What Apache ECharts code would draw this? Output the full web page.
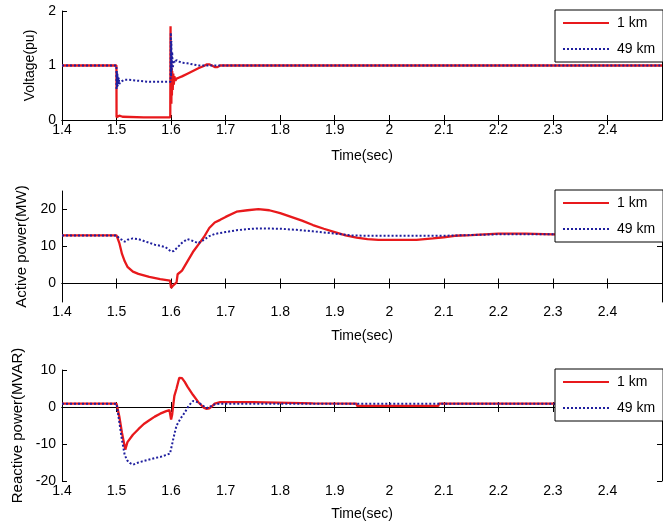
<!DOCTYPE html>
<html>
<head>
<meta charset="utf-8">
<script src="https://cdn.jsdelivr.net/npm/echarts@6/dist/echarts.min.js"></script>
<style>
  html, body { margin: 0; padding: 0; background: #fff; }
  #chart { width: 663px; height: 527px; }
</style>
</head>
<body>
<div id="chart"></div>
<script>
// ---- Data ----
const seriesNames = ['1 km', '49 km'];
const xTicks = [1.4, 1.5, 1.6, 1.7, 1.8, 1.9, 2.0, 2.1, 2.2, 2.3, 2.4];
const yTicksVolt = [0, 1, 2];
const yTicksP = [0, 10, 20];
const yTicksQ = [-20, -10, 0, 10];

// Voltage (pu)
const tV1 = [1.4, 1.4998, 1.5, 1.503, 1.505, 1.508, 1.511, 1.513, 1.55, 1.5985, 1.599, 1.5995, 1.6, 1.6005, 1.601, 1.6015, 1.602, 1.603, 1.604, 1.605, 1.606, 1.608, 1.61, 1.615, 1.62, 1.63, 1.64, 1.65, 1.66, 1.665, 1.67, 1.675, 1.68, 1.685, 1.69, 2.5];
const V1  = [1.0, 1.0, 0.05, 0.05, 0.08, 0.08, 0.06, 0.05, 0.05, 0.05, 1.72, 0.35, 1.05, 0.3, 0.95, 0.45, 0.9, 0.55, 0.85, 0.65, 0.8, 0.72, 0.76, 0.78, 0.8, 0.85, 0.9, 0.95, 0.99, 1.02, 1.02, 1.0, 0.97, 0.97, 1.0, 1.0];
const tV49 = [1.4, 1.4998, 1.5, 1.5005, 1.501, 1.5015, 1.502, 1.5025, 1.503, 1.504, 1.505, 1.507, 1.51, 1.515, 1.52, 1.53, 1.54, 1.56, 1.58, 1.599, 1.5995, 1.6, 1.6005, 1.601, 1.602, 1.603, 1.605, 1.607, 1.61, 1.615, 1.62, 1.63, 1.64, 1.65, 1.66, 2.5];
const V49  = [1.0, 1.0, 0.55, 0.9, 0.6, 0.85, 0.62, 0.8, 0.65, 0.78, 0.66, 0.7, 0.72, 0.74, 0.74, 0.73, 0.72, 0.7, 0.7, 0.7, 1.6, 0.8, 1.45, 0.9, 1.25, 0.95, 1.1, 1.05, 1.1, 1.07, 1.05, 1.04, 1.02, 1.0, 1.0, 1.0];

// Active power (MW)
const tP1 = [1.4, 1.5, 1.505, 1.51, 1.515, 1.52, 1.53, 1.54, 1.56, 1.58, 1.598, 1.6, 1.602, 1.604, 1.606, 1.61, 1.612, 1.62, 1.63, 1.64, 1.65, 1.66, 1.67, 1.68, 1.69, 1.7, 1.72, 1.74, 1.76, 1.78, 1.8, 1.82, 1.84, 1.86, 1.88, 1.9, 1.92, 1.94, 1.96, 1.98, 2.0, 2.05, 2.08, 2.1, 2.12, 2.15, 2.2, 2.25, 2.3, 2.5];
const P1  = [13, 13, 11, 8, 6, 4.5, 3.2, 2.6, 1.8, 1.2, 0.8, -1.2, -1.5, -0.5, -0.2, 0.3, 2.5, 3.5, 6, 8.5, 10.5, 12.5, 15, 16.5, 17.2, 18, 19.4, 19.8, 20.1, 19.8, 19, 18, 17, 15.8, 14.8, 13.9, 13, 12.4, 12, 11.8, 11.8, 11.8, 12.2, 12.5, 12.9, 13.1, 13.5, 13.5, 13.3, 13.3];
const tP49 = [1.4, 1.5, 1.505, 1.51, 1.515, 1.52, 1.53, 1.54, 1.55, 1.56, 1.57, 1.58, 1.59, 1.6, 1.605, 1.61, 1.62, 1.63, 1.64, 1.65, 1.66, 1.67, 1.68, 1.7, 1.72, 1.74, 1.76, 1.8, 1.83, 1.86, 1.9, 1.93, 1.96, 2.0, 2.1, 2.15, 2.2, 2.3, 2.5];
const P49  = [13, 13, 12.2, 11.8, 11.3, 11.8, 12.2, 12, 11.5, 11, 10.5, 10.2, 9.8, 8.6, 8.8, 9.5, 11, 12, 11.5, 10.9, 11.8, 12.8, 13.4, 13.9, 14.4, 14.7, 14.9, 14.8, 14.5, 14.1, 13.5, 13, 12.9, 12.9, 12.9, 13.1, 13.3, 13.3, 13.3];

// Reactive power (MVAR)
const tQ1 = [1.4, 1.5, 1.505, 1.51, 1.516, 1.52, 1.53, 1.54, 1.55, 1.56, 1.57, 1.58, 1.59, 1.597, 1.6, 1.602, 1.606, 1.61, 1.615, 1.62, 1.625, 1.63, 1.64, 1.65, 1.66, 1.665, 1.67, 1.675, 1.68, 1.69, 1.75, 1.751, 1.86, 1.861, 1.94, 1.941, 2.09, 2.091, 2.5];
const Q1  = [0.9, 0.9, -2.5, -7, -11.5, -9.5, -7.5, -6, -4.6, -3.6, -2.6, -1.8, -1.2, -0.8, -3.4, -2, 3, 5, 7.9, 7.8, 6.8, 5.5, 3.3, 1.3, -0.2, -0.5, -0.4, 0.2, 0.9, 1.3, 1.3, 1.0, 1.0, 0.9, 0.9, 0.3, 0.3, 0.9, 0.9];
const tQ49 = [1.4, 1.5, 1.505, 1.51, 1.515, 1.52, 1.525, 1.53, 1.54, 1.55, 1.56, 1.57, 1.58, 1.59, 1.598, 1.605, 1.61, 1.617, 1.625, 1.632, 1.64, 1.645, 1.65, 1.66, 1.665, 1.67, 1.68, 1.69, 2.5];
const Q49  = [0.9, 0.9, -4, -9, -13, -14.5, -15.2, -15.6, -15, -14.6, -14.2, -13.8, -13.5, -13, -12.6, -8, -5, -3.2, -1.5, 0.3, 1.6, 1.5, 1.2, 0.2, -0.3, 0, 0.7, 0.9, 0.9];

// ---- Build chart ----
const FONT = "'Liberation Sans', Arial, sans-serif";
const zip = (t, v) => t.map((x, i) => [x, v[i]]);

const panels = [
  { top: 11,  height: 109, yMin: 0,   yMax: 2,  yTicks: yTicksVolt, yName: 'Voltage(pu)',           nameGap: 24, nameSize: 14, xNameGap: 29, s1: zip(tV1, V1), s49: zip(tV49, V49) },
  { top: 191, height: 111, yMin: -5,  yMax: 25, yTicks: yTicksP,    yName: 'Active power(MW)',      nameGap: 32, nameSize: 15, xNameGap: 27, s1: zip(tP1, P1), s49: zip(tP49, P49) },
  { top: 370, height: 111, yMin: -20, yMax: 10, yTicks: yTicksQ,    yName: 'Reactive power(MVAR)',  nameGap: 35, nameSize: 15, xNameGap: 26, s1: zip(tQ1, Q1), s49: zip(tQ49, Q49) }
];

const axisLine = { show: true, lineStyle: { color: '#000', width: 1 } };
const grid = [], xAxis = [], yAxis = [], series = [], legend = [];

panels.forEach((p, i) => {
  grid.push({ left: 62, right: 1, top: p.top, height: p.height, containLabel: false });
  xAxis.push({
    type: 'value', gridIndex: i, min: 1.4, max: 2.5, position: 'bottom',
    axisLine: axisLine,
    axisTick: { show: true, inside: true, length: 5, customValues: xTicks, lineStyle: { color: '#000' } },
    axisLabel: { show: true, customValues: xTicks, margin: 3, color: '#000', fontSize: 14, fontFamily: FONT },
    splitLine: { show: false },
    name: 'Time(sec)', nameLocation: 'middle', nameGap: p.xNameGap,
    nameTextStyle: { color: '#000', fontSize: 14, fontFamily: FONT }
  });
  xAxis.push({
    type: 'value', gridIndex: i, min: 1.4, max: 2.5, position: 'top',
    axisLine: axisLine,
    axisTick: { show: true, inside: true, length: 5, customValues: xTicks, lineStyle: { color: '#000' } },
    axisLabel: { show: false },
    splitLine: { show: false }
  });
  yAxis.push({
    type: 'value', gridIndex: i, min: p.yMin, max: p.yMax, position: 'left',
    axisLine: axisLine,
    axisTick: { show: true, inside: true, length: 5, customValues: p.yTicks, lineStyle: { color: '#000' } },
    axisLabel: { show: true, customValues: p.yTicks, margin: 6, color: '#000', fontSize: 14, fontFamily: FONT },
    splitLine: { show: false },
    name: p.yName, nameLocation: 'middle', nameGap: p.nameGap, nameRotate: 90,
    nameTextStyle: { color: '#000', fontSize: p.nameSize, fontFamily: FONT }
  });
  yAxis.push({
    type: 'value', gridIndex: i, min: p.yMin, max: p.yMax, position: 'right',
    axisLine: axisLine,
    axisTick: { show: true, inside: true, length: 5, customValues: p.yTicks, lineStyle: { color: '#000' } },
    axisLabel: { show: false },
    splitLine: { show: false }
  });
  series.push({
    name: seriesNames[0], type: 'line', xAxisIndex: 2 * i, yAxisIndex: 2 * i,
    data: p.s1, symbol: 'none', showSymbol: false, z: 2,
    lineStyle: { color: '#e8191c', width: 2.3 }, itemStyle: { color: '#e8191c' }
  });
  series.push({
    name: seriesNames[1], type: 'line', xAxisIndex: 2 * i, yAxisIndex: 2 * i,
    data: p.s49, symbol: 'none', showSymbol: false, z: 3,
    lineStyle: { color: '#1f1f9e', width: 2, type: [2, 2] }, itemStyle: { color: '#1f1f9e' }
  });
  legend.push({
    data: seriesNames, orient: 'vertical', left: 555, top: p.top - 1,
    itemWidth: 46, itemHeight: 14, itemGap: 12,
    padding: [6, 8, 6, 7],
    backgroundColor: '#fff', borderColor: '#000', borderWidth: 1, borderRadius: 0,
    itemStyle: { opacity: 0 },
    textStyle: { color: '#000', fontSize: 14, fontFamily: FONT, padding: [0, 0, 0, 3] },
    selectedMode: false
  });
});

const chart = echarts.init(document.getElementById('chart'), null, { renderer: 'canvas' });
chart.setOption({
  animation: false,
  backgroundColor: '#fff',
  textStyle: { fontFamily: FONT },
  grid, xAxis, yAxis, series, legend
});
</script>
</body>
</html>
